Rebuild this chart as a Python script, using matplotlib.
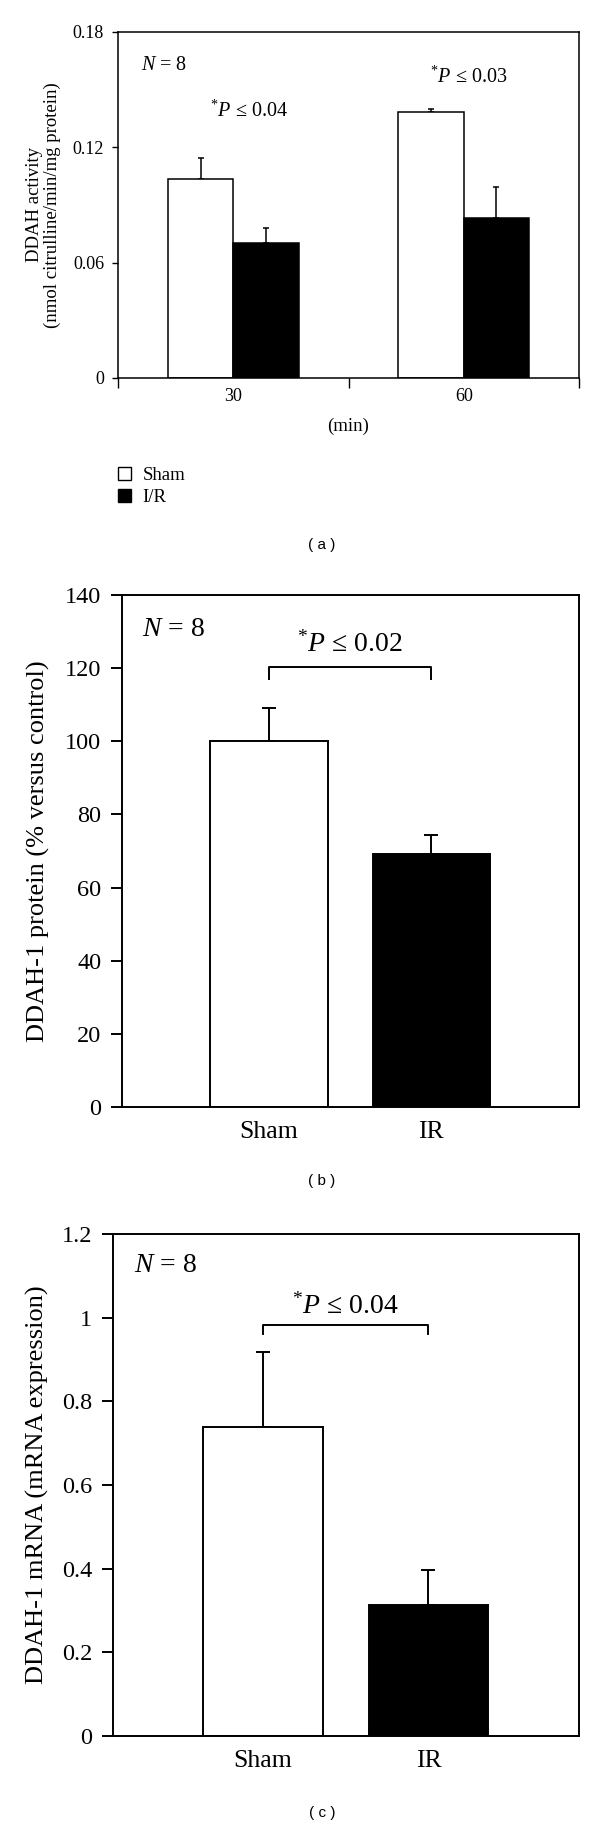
import matplotlib
matplotlib.use("Agg")
import matplotlib.pyplot as plt
from matplotlib.patches import Patch

plt.rcParams['font.family'] = ['Liberation Serif', 'DejaVu Serif']
plt.rcParams['mathtext.fontset'] = 'custom'
plt.rcParams['mathtext.rm'] = 'Liberation Serif'
plt.rcParams['mathtext.it'] = 'Liberation Serif:italic'

# panel (a): DDAH activity
a_times = ['30', '60']
a_sham = [0.1035, 0.1382]
a_sham_err = [0.0109, 0.0017]
a_ir = [0.0702, 0.0830]
a_ir_err = [0.0078, 0.0166]
a_yticks = [0, 0.06, 0.12, 0.18]
a_yticklabels = ['0', '0.06', '0.12', '0.18']

# panel (b): DDAH-1 protein
b_groups = ['Sham', 'IR']
b_vals = [100.0, 69.2]
b_err = [9.2, 5.1]
b_yticks = [0, 20, 40, 60, 80, 100, 120, 140]

# panel (c): DDAH-1 mRNA
c_groups = ['Sham', 'IR']
c_vals = [0.738, 0.3125]
c_err = [0.179, 0.084]
c_yticks = [0, 0.2, 0.4, 0.6, 0.8, 1.0, 1.2]
c_yticklabels = ['0', '0.2', '0.4', '0.6', '0.8', '1', '1.2']

W, H = 600, 1828
fig = plt.figure(figsize=(W / 100, H / 100), dpi=100)


def box(l, t, r, b):
    return fig.add_axes([l / W, 1 - b / H, (r - l) / W, (b - t) / H])


# ---------- (a)
ax = box(118, 32, 579, 378)
centers = [0.5, 1.5]
w = 0.284
xs = [c - w / 2 for c in centers]
xi = [c + w / 2 for c in centers]
ax.bar(xs, a_sham, w, color='white', edgecolor='black', linewidth=1.1, zorder=2)
ax.bar(xi, a_ir, w, color='black', edgecolor='black', linewidth=1.1, zorder=2)
ax.errorbar(xs, a_sham, yerr=[[0, 0], a_sham_err], fmt='none', ecolor='black',
            elinewidth=1.1, capsize=2.5, capthick=1.1, zorder=1)
ax.errorbar(xi, a_ir, yerr=[[0, 0], a_ir_err], fmt='none', ecolor='black',
            elinewidth=1.1, capsize=2.5, capthick=1.1, zorder=1)
ax.set_xlim(0, 2)
ax.set_ylim(0, 0.18)
ax.set_yticks(a_yticks)
ax.set_yticklabels(a_yticklabels)
ax.set_xticks([0, 1, 2])
ax.set_xticklabels(['', '', ''])
ax.set_xticks(centers, minor=True)
ax.set_xticklabels(a_times, minor=True)
ax.tick_params(axis='y', direction='out', length=4, width=1, pad=6, labelsize=13)
ax.tick_params(axis='x', which='major', direction='out', length=7, width=1)
ax.tick_params(axis='x', which='minor', length=0, pad=7, labelsize=13)
for s in ax.spines.values():
    s.set_linewidth(1.1)
ax.set_xlabel('(min)', fontsize=13.5, labelpad=9)
ax.set_ylabel('DDAH activity\n(nmol citrulline/min/mg protein)', fontsize=13.5,
              linespacing=1.05)
ax.yaxis.set_label_coords(-0.124, 0.5)
ax.text(0.1, 0.1625, r'$N$ = 8', fontsize=14.5, va='center')
ax.text(0.57, 0.1388, r'$^{*}P$ ≤ 0.04', fontsize=14.5, ha='center', va='center')
ax.text(1.522, 0.1564, r'$^{*}P$ ≤ 0.03', fontsize=14.5, ha='center', va='center')

fig.legend(handles=[Patch(facecolor='white', edgecolor='black', linewidth=1),
                    Patch(facecolor='black', edgecolor='black', linewidth=1)],
           labels=['Sham', 'I/R'], loc='upper left',
           bbox_to_anchor=(118 / W, 1 - 467 / H), frameon=False, fontsize=13.5,
           handlelength=0.7, handleheight=0.7, handletextpad=0.6,
           labelspacing=0.25, borderaxespad=0, borderpad=0)
fig.text(322 / W, 1 - 545 / H, '( a )', fontsize=11, ha='center', va='center',
         family='Liberation Sans')


def two_bar(ax, groups, vals, err, yticks, yticklabels, ylim, ylabel, lab_x,
            n_y, bracket_y, bracket_drop, ptxt, p_y):
    pos = [0, 1]
    ax.bar(pos, vals, 0.723, color=['white', 'black'], edgecolor='black',
           linewidth=1.4, zorder=2)
    ax.errorbar(pos, vals, yerr=[[0, 0], err], fmt='none', ecolor='black',
                elinewidth=1.4, capsize=5, capthick=1.4, zorder=1)
    ax.set_xlim(-0.904, 1.909)
    ax.set_ylim(*ylim)
    ax.set_xticks(pos)
    ax.set_xticklabels(groups)
    ax.set_yticks(yticks)
    ax.set_yticklabels(yticklabels)
    ax.tick_params(axis='y', direction='out', length=8, width=1.4, pad=7,
                   labelsize=17.5)
    ax.tick_params(axis='x', length=0, pad=10, labelsize=18.5)
    for s in ax.spines.values():
        s.set_linewidth(1.4)
    ax.set_ylabel(ylabel, fontsize=19)
    ax.yaxis.set_label_coords(lab_x, 0.5)
    ax.text(-0.78, n_y, r'$N$ = 8', fontsize=20, va='center')
    ax.plot([pos[0], pos[0], pos[1], pos[1]],
            [bracket_y - bracket_drop, bracket_y, bracket_y, bracket_y - bracket_drop],
            color='black', linewidth=1.4)
    ax.text(0.5, p_y, ptxt, fontsize=20, ha='center', va='center')


# ---------- (b)
ax = box(122, 595, 579, 1107)
two_bar(ax, b_groups, b_vals, b_err, b_yticks, [str(v) for v in b_yticks],
        (0, 140), 'DDAH-1 protein (% versus control)', -0.158,
        130.6, 120.3, 3.2, r'$^{*}P$ ≤ 0.02', 126.6)
fig.text(322 / W, 1 - 1181 / H, '( b )', fontsize=11, ha='center', va='center',
         family='Liberation Sans')

# ---------- (c)
ax = box(113, 1234, 579, 1736)
two_bar(ax, c_groups, c_vals, c_err, c_yticks, c_yticklabels,
        (0, 1.2), 'DDAH-1 mRNA (mRNA expression)', -0.138,
        1.125, 0.982, 0.022, r'$^{*}P$ ≤ 0.04', 1.027)
fig.text(322 / W, 1 - 1813 / H, '( c )', fontsize=11, ha='center', va='center',
         family='Liberation Sans')

fig.savefig('out.png', dpi=100)
